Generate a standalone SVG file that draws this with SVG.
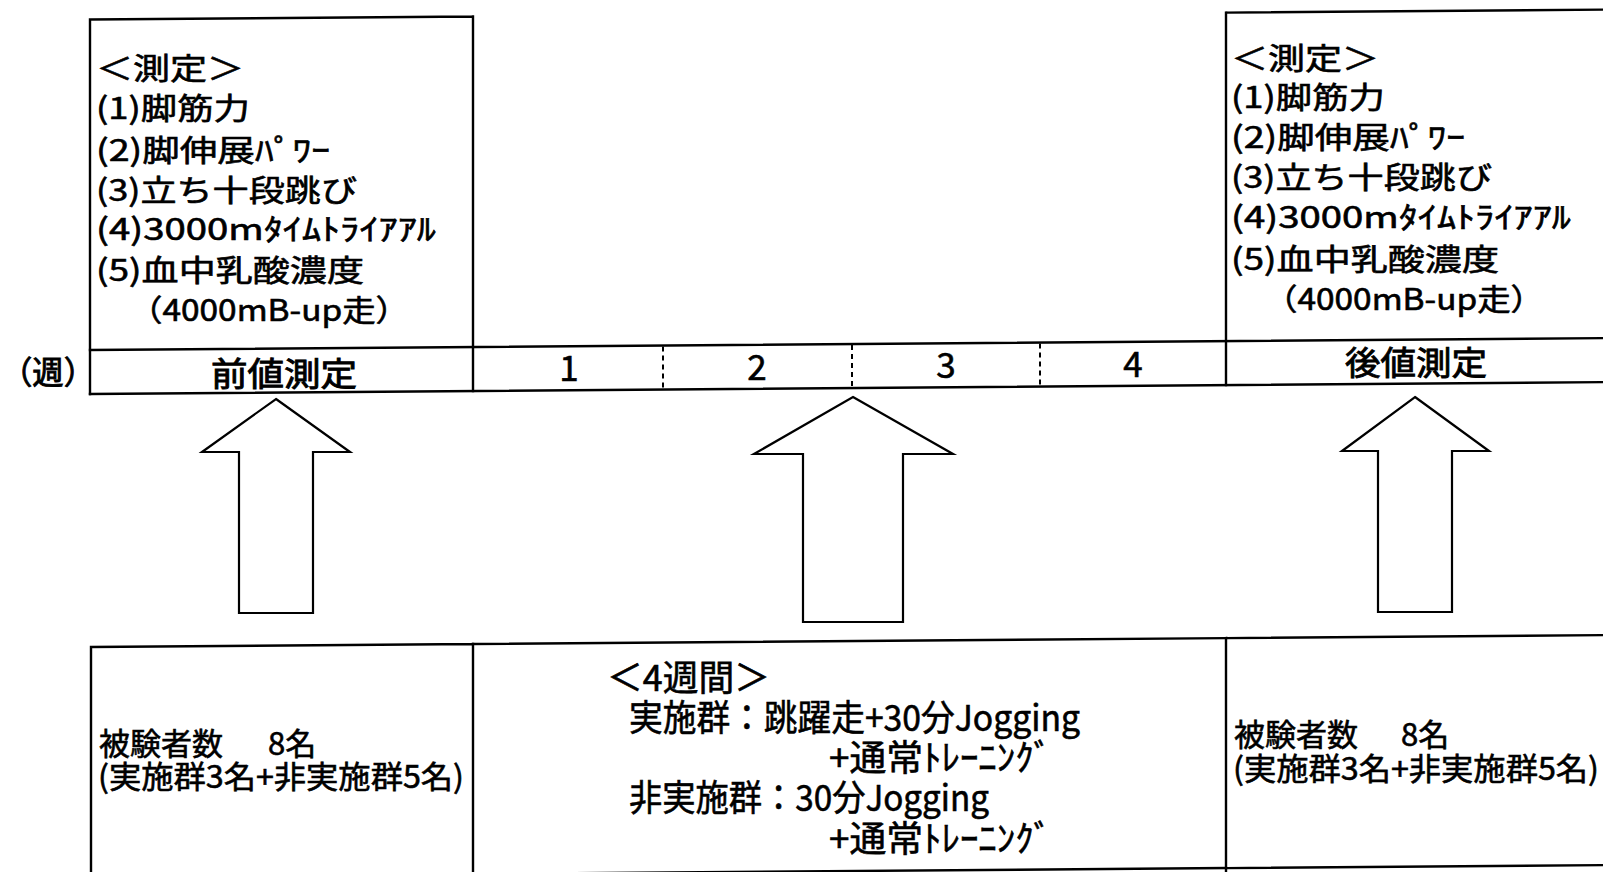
<svg xmlns="http://www.w3.org/2000/svg" width="1603" height="872" viewBox="0 0 1603 872">
<style>
  .ln { fill: none; stroke: #000; stroke-width: 2.4; stroke-linecap: square; }
  .dash { fill: none; stroke: #000; stroke-width: 2; stroke-dasharray: 5 4; }
  .arrow { fill: #fff; stroke: #000; stroke-width: 2.2; stroke-linejoin: miter; }
  .t { font-family: "Noto Sans CJK JP", "Noto Sans", sans-serif; fill: #000; stroke: #000; stroke-width: 0.6; }
  .m { font-size: 30px; }
  .h { font-size: 33px; stroke-width: 0.9; }
  .n { font-size: 35px; text-anchor: middle; }
  .s { font-size: 31px; }
  .tr { font-size: 36px; }
  .w { font-size: 32px; stroke-width: 0.9; }
</style>
<rect width="1603" height="872" fill="#fff"/>

<g id="pre-measure">
  <g transform="matrix(1,-0.00785,0,1,0,0.7065)">
    <path class="ln" d="M90 19.5 H473 M90 19.5 V394 M473 19.5 V394"/>
  </g>
  <text class="t m" x="96" y="79" textLength="148" lengthAdjust="spacingAndGlyphs">＜測定＞</text>
  <text class="t m" x="96" y="119" textLength="154" lengthAdjust="spacingAndGlyphs">(1)脚筋力</text>
  <text class="t m" x="96" y="161" textLength="234" lengthAdjust="spacingAndGlyphs">(2)脚伸展ﾊﾟﾜｰ</text>
  <text class="t m" x="96" y="201" textLength="261" lengthAdjust="spacingAndGlyphs">(3)立ち十段跳び</text>
  <text class="t m" x="96" y="240" textLength="340" lengthAdjust="spacingAndGlyphs">(4)3000mﾀｲﾑﾄﾗｲｱｱﾙ</text>
  <text class="t m" x="96" y="281" textLength="268" lengthAdjust="spacingAndGlyphs">(5)血中乳酸濃度</text>
  <text class="t m" x="129" y="321" textLength="280" lengthAdjust="spacingAndGlyphs">（4000mB-up走）</text>
</g>

<g id="post-measure">
  <g transform="matrix(1,-0.00785,0,1,0,0.7065)">
    <path class="ln" d="M1226 21.5 H1605 M1226 21.5 V394"/>
  </g>
  <text class="t m" x="1231" y="69" textLength="148" lengthAdjust="spacingAndGlyphs">＜測定＞</text>
  <text class="t m" x="1231" y="108" textLength="154" lengthAdjust="spacingAndGlyphs">(1)脚筋力</text>
  <text class="t m" x="1231" y="148" textLength="234" lengthAdjust="spacingAndGlyphs">(2)脚伸展ﾊﾟﾜｰ</text>
  <text class="t m" x="1231" y="188" textLength="261" lengthAdjust="spacingAndGlyphs">(3)立ち十段跳び</text>
  <text class="t m" x="1231" y="228" textLength="340" lengthAdjust="spacingAndGlyphs">(4)3000mﾀｲﾑﾄﾗｲｱｱﾙ</text>
  <text class="t m" x="1231" y="270" textLength="268" lengthAdjust="spacingAndGlyphs">(5)血中乳酸濃度</text>
  <text class="t m" x="1264" y="310" textLength="280" lengthAdjust="spacingAndGlyphs">（4000mB-up走）</text>
</g>

<g id="timeline">
  <g transform="matrix(1,-0.00785,0,1,0,0.7065)">
    <path class="ln" d="M90 350 H1605 M90 394 H1605"/>
    <path class="dash" d="M663 351 V393 M852 351 V393 M1040 351 V393"/>
  </g>
  <text class="t w" x="1" y="384" textLength="94" lengthAdjust="spacingAndGlyphs">（週）</text>
  <text class="t h" x="211" y="386" textLength="146" lengthAdjust="spacingAndGlyphs">前値測定</text>
  <text class="t n" x="569" y="381">1</text>
  <text class="t n" x="757" y="380">2</text>
  <text class="t n" x="946" y="378">3</text>
  <text class="t n" x="1133" y="377">4</text>
  <text class="t h" x="1345" y="375" textLength="142" lengthAdjust="spacingAndGlyphs">後値測定</text>
</g>

<g id="subjects-pre">
  <g transform="matrix(1,-0.00785,0,1,0,0.7065)">
    <path class="ln" d="M91 647 H473 M91 647 V890 M473 647 V890 M91 877 H473"/>
  </g>
  <text class="t s" x="99" y="755">被験者数<tspan x="268">8名</tspan></text>
  <text class="t s" x="98" y="788" textLength="366" lengthAdjust="spacingAndGlyphs">(実施群3名+非実施群5名)</text>
</g>

<g id="training">
  <g transform="matrix(1,-0.00785,0,1,0,0.7065)">
    <path class="ln" d="M473 647 H1226 M473 877 H1226"/>
  </g>
  <text class="t tr" x="607" y="691" textLength="163" lengthAdjust="spacingAndGlyphs">＜4週間＞</text>
  <text class="t tr" x="629" y="731" textLength="451" lengthAdjust="spacingAndGlyphs">実施群：跳躍走+30分Jogging</text>
  <text class="t tr" x="829" y="771" textLength="223" lengthAdjust="spacingAndGlyphs">+通常ﾄﾚｰﾆﾝｸﾞ</text>
  <text class="t tr" x="629" y="811" textLength="360" lengthAdjust="spacingAndGlyphs">非実施群：30分Jogging</text>
  <text class="t tr" x="829" y="852" textLength="223" lengthAdjust="spacingAndGlyphs">+通常ﾄﾚｰﾆﾝｸﾞ</text>
</g>

<g id="subjects-post">
  <g transform="matrix(1,-0.00785,0,1,0,0.7065)">
    <path class="ln" d="M1226 647 H1605 M1226 647 V890 M1226 877 H1605"/>
  </g>
  <text class="t s" x="1234" y="746">被験者数<tspan x="1401">8名</tspan></text>
  <text class="t s" x="1233" y="780" textLength="366" lengthAdjust="spacingAndGlyphs">(実施群3名+非実施群5名)</text>
</g>

<g id="connectors">
  <polygon class="arrow" points="276,399 350,452 313,452 313,613 239,613 239,452 202,452"/>
  <polygon class="arrow" points="853,397 953,454 903,454 903,622 803,622 803,454 754,454"/>
  <polygon class="arrow" points="1415,397 1489,451 1452,451 1452,612 1378,612 1378,451 1342,451"/>
</g>
</svg>
